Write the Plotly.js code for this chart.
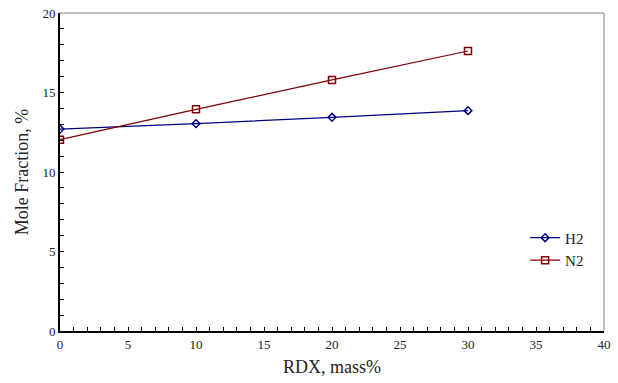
<!DOCTYPE html>
<html>
<head>
<script src="https://cdn.plot.ly/plotly-3.0.1.min.js"></script>
<style>body{margin:0;padding:0;background:#fff;}#chart{width:618px;height:383px;}</style>
</head>
<body>
<div id="chart"></div>
<script>
var rdx = [0, 10, 20, 30];
var h2 = [12.7, 13.04, 13.44, 13.86];
var n2 = [12.03, 13.94, 15.79, 17.61];
var seriesNames = ['H2', 'N2'];

var font = 'Liberation Serif, Times New Roman, serif';
var traces = [
  {x: rdx, y: h2, name: seriesNames[0], mode: 'lines+markers', type: 'scatter',
   line: {color: '#000080', width: 1.2},
   marker: {symbol: 'diamond-open', size: 6, color: '#000080', line: {width: 1.5}}},
  {x: rdx, y: n2, name: seriesNames[1], mode: 'lines+markers', type: 'scatter',
   line: {color: '#800000', width: 1.2},
   marker: {symbol: 'square-open', size: 7, color: '#800000', line: {width: 1.5}}}
];
var layout = {
  width: 618, height: 383,
  margin: {l: 60, r: 14, t: 13, b: 52},
  paper_bgcolor: '#fff', plot_bgcolor: '#fff',
  font: {family: font, size: 13, color: '#222'},
  showlegend: true,
  legend: {x: 0.855, y: 0.258, xanchor: 'left', yanchor: 'middle', bgcolor: 'rgba(0,0,0,0)',
           font: {family: font, size: 15, color: '#222'}, tracegroupgap: 0, itemwidth: 30},
  xaxis: {range: [0, 40], dtick: 5, showgrid: false, zeroline: false,
          showline: true, linecolor: '#000', linewidth: 2, mirror: false,
          ticks: 'inside', ticklen: 4, tickcolor: '#000',
          minor: {dtick: 1, ticks: 'inside', ticklen: 4, tickcolor: '#000'},
          tickfont: {family: font, size: 13, color: '#222'},
          title: {text: 'RDX, mass%', font: {family: font, size: 18, color: '#222'}, standoff: 10}},
  yaxis: {range: [0, 20], dtick: 5, showgrid: false, zeroline: false,
          showline: true, linecolor: '#000', linewidth: 2,
          ticks: 'inside', ticklen: 4, tickcolor: '#000',
          minor: {dtick: 1, ticks: 'inside', ticklen: 4, tickcolor: '#000'},
          tickfont: {family: font, size: 13, color: '#222'},
          title: {text: 'Mole Fraction, %', font: {family: font, size: 18, color: '#222'}, standoff: 9}},
  shapes: [
    {type: 'line', xref: 'paper', yref: 'paper', x0: 0, x1: 1, y0: 1, y1: 1, line: {color: '#808080', width: 1}},
    {type: 'line', xref: 'paper', yref: 'paper', x0: 1, x1: 1, y0: 0, y1: 1, line: {color: '#808080', width: 1}}
  ]
};
Plotly.newPlot('chart', traces, layout, {displayModeBar: false, staticPlot: true});
</script>
</body>
</html>
